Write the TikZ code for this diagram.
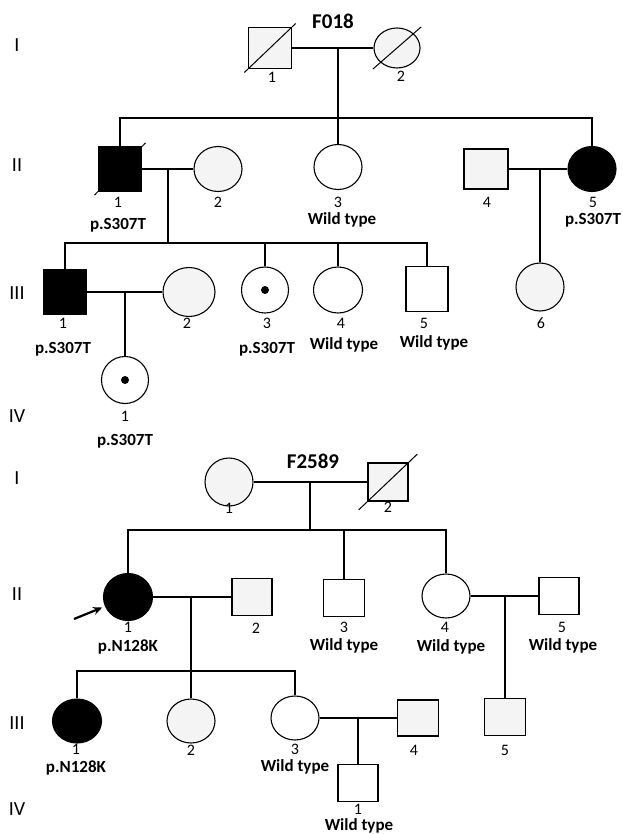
\documentclass[tikz,border=0pt]{standalone}
\usepackage{fontspec}
\setmainfont{Carlito}
\usepackage{tikz}
\usetikzlibrary{arrows.meta,shapes.geometric}

\begin{document}
\begin{tikzpicture}[x=1pt,y=-1pt,line width=1.1pt,
    male/.style={draw,rectangle,minimum width=43pt,minimum height=41pt,inner sep=0pt},
    female/.style={draw,ellipse,minimum width=48pt,minimum height=45pt,inner sep=0pt},
    aff/.style={fill=black},
    speck/.style={fill=gray!9},
    dead/.style={shorten <=-#1,shorten >=-#1,line width=1pt},
    num/.style={font=\fontsize{16}{16}\selectfont,inner sep=0pt},
    geno/.style={font=\bfseries\fontsize{17}{17}\selectfont,inner sep=0pt},
    gen/.style={font=\fontsize{20}{20}\selectfont,inner sep=0pt},
    fam/.style={font=\bfseries\fontsize{21}{21}\selectfont,inner sep=0pt}]
  \useasboundingbox (0,0) rectangle (622,834);

  % family F018
  \node[fam] (famA) at (333,21) {F018};
  \foreach \g/\y in {I/45,II/165,III/293,IV/416} \node[gen] (genA\g) at (17,\y) {\g};
  \node[male,speck] (Ia1) at (270,48) {};
  \node[female,speck,minimum width=46pt,minimum height=40pt] (Ia2) at (397,48) {};
  \node[male,aff,minimum height=44pt] (IIa1) at (120,169) {};
  \node[female,speck] (IIa2) at (218,169) {};
  \node[female] (IIa3) at (338,167) {};
  \node[male,speck,minimum width=44pt,minimum height=40pt] (IIa4) at (486,169) {};
  \node[female,aff] (IIa5) at (592,169) {};
  \node[male,aff,minimum height=44pt] (IIIa1) at (65,292) {};
  \node[female,speck,minimum width=52pt,minimum height=49pt] (IIIa2) at (189,292) {};
  \node[female,minimum width=47pt,minimum height=46pt] (IIIa3) at (265,290) {};
  \node[female,minimum width=49pt,minimum height=46pt] (IIIa4) at (338,290) {};
  \node[male,minimum width=42pt,minimum height=45pt] (IIIa5) at (427,289) {};
  \node[female,speck,minimum height=48pt] (IIIa6) at (540,287) {};
  \node[female,minimum width=47pt,minimum height=47pt] (IVa1) at (125,380) {};
  \fill (IIIa3) circle (4);
  \fill (IVa1) circle (4);
  \draw[dead=5pt] (Ia1.south west) -- (Ia1.north east);
  \draw[dead=10pt] (Ia2.south west) -- (Ia2.north east);
  \draw[dead=5pt] (IIa1.south west) -- (IIa1.north east);

  \foreach \n/\t/\x/\y in {Ia1/1/272/77,Ia2/2/401/76,IIa1/1/118/202,IIa2/2/218/202,IIa3/3/338/202,
      IIa4/4/487/202,IIa5/5/593/202,IIIa1/1/63/323,IIIa2/2/187/323,IIIa3/3/267/323,IIIa4/4/341/323,
      IIIa5/5/424/323,IIIa6/6/541/323,IVa1/1/125/416}
    \node[num] (t\n) at (\x,\y) {\t};
  \foreach \n/\t/\x/\y in {IIa1/p.S307T/118/225,IIa3/Wild type/342/220,IIa5/p.S307T/593/220,
      IIIa1/p.S307T/63/349,IIIa3/p.S307T/267/349,IIIa4/Wild type/344/345,IIIa5/Wild type/434/343,
      IVa1/p.S307T/125/441}
    \node[geno] (g\n) at (\x,\y) {\t};

  \coordinate (mA1) at (338,48);
  \coordinate (sA2) at (338,118);
  \coordinate (mA2) at (168,169);
  \coordinate (sA3) at (168,243);
  \coordinate (mA3) at (540,169);
  \coordinate (mA4) at (125,292);
  \foreach \x/\y in {Ia1/Ia2,IIa1/IIa2,IIa4/IIa5,IIIa1/IIIa2} \draw (\x)--(\y);
  \draw (mA1)--(sA2);
  \draw (mA2)--(sA3);
  \draw (IIa1.north) -- (IIa1.north |- sA2) -- (IIa5.north |- sA2) -- (IIa5.north);
  \draw (IIa3.north) -- (IIa3.north |- sA2);
  \draw (IIIa1.north) -- (IIIa1.north |- sA3) -- (IIIa5.north |- sA3) -- (IIIa5.north);
  \foreach \c in {IIIa3,IIIa4} \draw (\c.north) -- (\c.north |- sA3);
  \draw (mA3)--(IIIa6.north);
  \draw (mA4)--(IVa1.north);

  % family F2589
  \node[fam] (famB) at (313,461) {F2589};
  \foreach \g/\y in {I/478,II/594,III/723,IV/809} \node[gen] (genB\g) at (17,\y) {\g};
  \node[female,speck,minimum height=48pt] (Ib1) at (229,482) {};
  \node[male,speck,minimum width=40pt,minimum height=38pt] (Ib2) at (388,482) {};
  \node[female,aff,minimum width=49pt,minimum height=47pt] (IIb1) at (128,597) {};
  \node[male,speck,minimum width=40pt,minimum height=37pt] (IIb2) at (252,597) {};
  \node[male,minimum width=41pt,minimum height=37pt] (IIb3) at (344,598) {};
  \node[female,minimum height=44pt] (IIb4) at (446,596) {};
  \node[male,minimum width=40pt,minimum height=37pt] (IIb5) at (559,596) {};
  \node[female,aff,minimum width=49pt,minimum height=44pt] (IIIb1) at (77,721) {};
  \node[female,speck,minimum height=44pt] (IIIb2) at (191,721) {};
  \node[female,minimum height=44pt] (IIIb3) at (295,718) {};
  \node[male,speck,minimum width=41pt,minimum height=36pt] (IIIb4) at (418,718) {};
  \node[male,speck,minimum width=41pt,minimum height=37pt] (IIIb5) at (505,717) {};
  \node[male,minimum width=40pt,minimum height=37pt] (IVb1) at (358,783) {};
  \draw[dead=12pt] (Ib2.south west) -- (Ib2.north east);
  \coordinate (arw) at (74,619);
  \draw[line width=2.2pt,-{Stealth[length=9pt,width=8pt]},shorten >=3pt] (arw) -- (IIb1);

  \foreach \n/\t/\x/\y in {Ib1/1/229/508,Ib2/2/388/507,IIb1/1/128/627,IIb2/2/256/628,IIb3/3/344/627,
      IIb4/4/445/627,IIb5/5/562/627,IIIb1/1/76/749,IIIb2/2/191/750,IIIb3/3/295/749,IIIb4/4/414/750,
      IIIb5/5/505/750,IVb1/1/358/809}
    \node[num] (t\n) at (\x,\y) {\t};
  \foreach \n/\t/\x/\y in {IIb1/p.N128K/128/647,IIb3/Wild type/344/646,IIb4/Wild type/451/647,
      IIb5/Wild type/563/646,IIIb1/p.N128K/76/768,IIIb3/Wild type/295/767,IVb1/Wild type/359/826}
    \node[geno] (g\n) at (\x,\y) {\t};

  \coordinate (mB1) at (310,482);
  \coordinate (sB2) at (310,530);
  \coordinate (mB2) at (191,597);
  \coordinate (sB3) at (191,671);
  \coordinate (mB3) at (505,596);
  \coordinate (mB4) at (358,718);
  \foreach \x/\y in {Ib1/Ib2,IIb1/IIb2,IIb4/IIb5,IIIb3/IIIb4} \draw (\x)--(\y);
  \draw (mB1)--(sB2);
  \draw (mB2)--(sB3);
  \draw (IIb1.north) -- (IIb1.north |- sB2) -- (IIb4.north |- sB2) -- (IIb4.north);
  \draw (IIb3.north) -- (IIb3.north |- sB2);
  \draw (IIIb1.north) -- (IIIb1.north |- sB3) -- (IIIb3.north |- sB3) -- (IIIb3.north);
  \draw (IIIb2.north) -- (IIIb2.north |- sB3);
  \draw (mB3)--(IIIb5.north);
  \draw (mB4)--(IVb1.north);
\end{tikzpicture}
\end{document}
